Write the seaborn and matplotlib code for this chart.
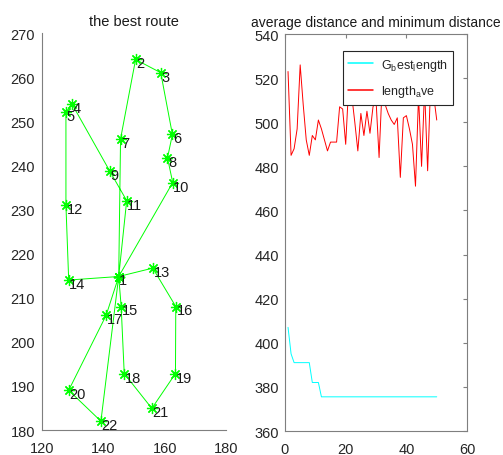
import matplotlib
matplotlib.use('Agg')
import matplotlib.pyplot as plt
import seaborn as sns
import pandas as pd

# city coordinates (index 0 -> city 1)
city_x = [145, 150.5, 158.7, 129.7, 127.8, 162.5, 145.6, 160.9, 142, 162.6, 147.6,
          127.8, 156.1, 128.7, 145.8, 163.6, 140.9, 146.8, 163.5, 128.7, 155.8, 139.2]
city_y = [214.8, 264, 261, 254, 252, 247, 246, 241.7, 238.8, 236.1, 232,
          231, 216.7, 214, 208, 208, 206, 192.8, 192.8, 189, 184.9, 182]

# best route, depot 1 visited several times
route = [1, 10, 8, 6, 3, 2, 7, 1, 11, 9, 4, 5, 12, 14, 1,
         13, 16, 19, 21, 18, 15, 1, 17, 20, 22, 1]

# convergence curves
generations = list(range(1, 51))
best_length = [407, 395, 391, 391, 391, 391, 391, 391, 382, 382, 382] + [375.5] * 39
ave_length = [523, 485, 488, 497, 526, 508, 492, 485, 494, 492,
              501, 497, 492, 487, 491, 491, 491, 507, 506, 490,
              517, 512, 500, 487, 504, 494, 505, 495, 507, 510,
              484, 516, 508, 504, 501, 499, 502, 475, 502, 503,
              497, 490, 471, 512, 480, 515, 478, 518, 512, 501]

sns.set_style('white')
plt.rcParams['font.family'] = ['Liberation Sans', 'DejaVu Sans']
plt.rcParams['axes.edgecolor'] = '#7f7f7f'
plt.rcParams['axes.linewidth'] = 0.8
plt.rcParams['xtick.color'] = '#7f7f7f'
plt.rcParams['ytick.color'] = '#7f7f7f'
plt.rcParams['xtick.labelcolor'] = '#262626'
plt.rcParams['ytick.labelcolor'] = '#262626'

fig = plt.figure(figsize=(5.03, 4.56), dpi=100)
ax1 = fig.add_axes([0.0835, 0.0548, 0.366, 0.8706])
ax2 = fig.add_axes([0.5666, 0.0526, 0.362, 0.8706])

route_df = pd.DataFrame({
    'x': [city_x[i - 1] for i in route],
    'y': [city_y[i - 1] for i in route],
})
sns.lineplot(data=route_df, x='x', y='y', sort=False, estimator=None,
             color=(0, 1, 0), linewidth=0.7, marker=(8, 2, 0), markersize=8,
             markeredgecolor=(0, 1, 0), markeredgewidth=0.9, ax=ax1)
for i in range(len(city_x)):
    ax1.text(city_x[i] + 0.2, city_y[i] - 0.9, str(i + 1), fontsize=10.5,
             color='#1a1a1a', ha='left', va='center')
ax1.set_xlim(120, 180)
ax1.set_ylim(180, 270)
ax1.set_xticks([120, 140, 160, 180])
ax1.set_yticks(range(180, 271, 10))
ax1.set_title('the best route', fontsize=10.5, color='#1a1a1a', pad=6)
ax1.set_xlabel('')
ax1.set_ylabel('')
ax1.spines['top'].set_visible(False)
ax1.spines['right'].set_visible(False)
ax1.tick_params(direction='in', length=3, labelsize=10.5)
ax1.tick_params(axis='x', pad=8)
ax1.tick_params(axis='y', pad=5)

best_label = 'G$_\\mathregular{b}$est$_\\mathregular{l}$ength'
ave_label = 'length$_\\mathregular{a}$ve'
conv_df = pd.DataFrame({
    'gen': generations + generations,
    'length': best_length + ave_length,
    'series': [best_label] * 50 + [ave_label] * 50,
})
sns.lineplot(data=conv_df, x='gen', y='length', hue='series',
             palette=[(0, 1, 1), (1, 0, 0)], linewidth=0.7, ax=ax2)
ax2.set_xlim(0, 60)
ax2.set_ylim(360, 540)
ax2.set_xticks([0, 20, 40, 60])
ax2.set_yticks(range(360, 541, 20))
ax2.set_title('average distance and minimum distance', fontsize=10,
              color='#1a1a1a', pad=6)
ax2.set_xlabel('')
ax2.set_ylabel('')
ax2.tick_params(direction='in', length=3, labelsize=10.5,
                top=True, right=True)
ax2.tick_params(axis='x', pad=8)
ax2.tick_params(axis='y', pad=4)
leg = ax2.legend(loc='upper right', bbox_to_anchor=(0.923, 0.957),
                 borderaxespad=0, fontsize=9, frameon=True, fancybox=False,
                 framealpha=1, borderpad=0.45, handlelength=2.0,
                 labelspacing=0.85, handletextpad=0.6)
leg.get_frame().set_edgecolor('#262626')
leg.get_frame().set_linewidth(0.8)
for handle in leg.get_lines():
    handle.set_linewidth(1.1)

fig.savefig('out.png', dpi=100)
